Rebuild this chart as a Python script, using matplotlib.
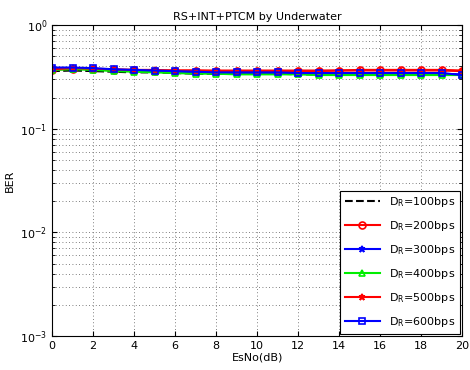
import matplotlib
matplotlib.use("Agg")
import matplotlib.pyplot as plt
from matplotlib.ticker import LogLocator, NullFormatter

esno = list(range(0, 21))

ber_100 = [0.36, 0.365, 0.36, 0.355, 0.35, 0.35, 0.345, 0.34, 0.34, 0.34, 0.34, 0.34, 0.335, 0.335, 0.335, 0.335, 0.335, 0.335, 0.335, 0.335, 0.33]
ber_200 = [0.37, 0.38, 0.375, 0.37, 0.37, 0.365, 0.365, 0.365, 0.365, 0.365, 0.365, 0.365, 0.365, 0.365, 0.365, 0.37, 0.37, 0.37, 0.37, 0.37, 0.365]
ber_300 = [0.38, 0.38, 0.375, 0.37, 0.365, 0.36, 0.355, 0.35, 0.35, 0.345, 0.345, 0.345, 0.34, 0.34, 0.34, 0.34, 0.34, 0.34, 0.34, 0.34, 0.335]
ber_400 = [0.37, 0.375, 0.37, 0.36, 0.355, 0.35, 0.345, 0.34, 0.34, 0.335, 0.335, 0.335, 0.335, 0.33, 0.33, 0.33, 0.33, 0.33, 0.33, 0.33, 0.33]
ber_500 = [0.375, 0.385, 0.38, 0.375, 0.37, 0.37, 0.365, 0.365, 0.36, 0.36, 0.36, 0.36, 0.36, 0.36, 0.365, 0.365, 0.365, 0.365, 0.365, 0.365, 0.36]
ber_600 = [0.39, 0.39, 0.385, 0.375, 0.37, 0.365, 0.36, 0.355, 0.35, 0.35, 0.35, 0.35, 0.345, 0.345, 0.345, 0.345, 0.345, 0.345, 0.345, 0.345, 0.33]

labels = ["100", "200", "300", "400", "500", "600"]

plt.rcParams["font.family"] = ["DejaVu Sans"]
fig = plt.figure(figsize=(4.7, 3.7), dpi=100)
ax = fig.add_axes([0.111, 0.092, 0.872, 0.84])

styles = [
    (ber_100, "k", "--", None),
    (ber_200, "r", "-", "o"),
    (ber_300, "b", "-", "*"),
    (ber_400, "#00ee00", "-", "^"),
    (ber_500, "r", "-", "*"),
    (ber_600, "b", "-", "s"),
]
for (vals, c, ls, mk), lab in zip(styles, labels):
    ax.semilogy(esno, vals, color=c, linestyle=ls, marker=mk, markersize=5,
                markerfacecolor="none" if mk in ("o", "^", "s") else c,
                markeredgewidth=1.2, linewidth=1.5,
                label=r"D$_\mathregular{R}$=" + lab + "bps")

ax.set_xlim(0, 20)
ax.set_ylim(1e-3, 1)
ax.set_xticks(range(0, 21, 2))
ax.yaxis.set_major_locator(LogLocator(base=10, numticks=10))
ax.yaxis.set_minor_locator(LogLocator(base=10, subs=range(2, 10), numticks=10))
ax.yaxis.set_minor_formatter(NullFormatter())
ax.grid(True, which="both", color="#555555", linestyle=(0, (1, 3)), linewidth=0.6)
ax.tick_params(which="both", direction="in", top=True, right=True, labelsize=8)
ax.set_title("RS+INT+PTCM by Underwater", fontsize=8, pad=4)
ax.set_xlabel("EsNo(dB)", fontsize=8, labelpad=1)
ax.set_ylabel("BER", fontsize=8)
leg = ax.legend(loc="lower right", fontsize=8, handlelength=3.2, fancybox=False,
                edgecolor="k", framealpha=1, borderaxespad=0.2, labelspacing=0.9)
leg.get_frame().set_linewidth(0.8)

fig.savefig("out.png", dpi=100)
